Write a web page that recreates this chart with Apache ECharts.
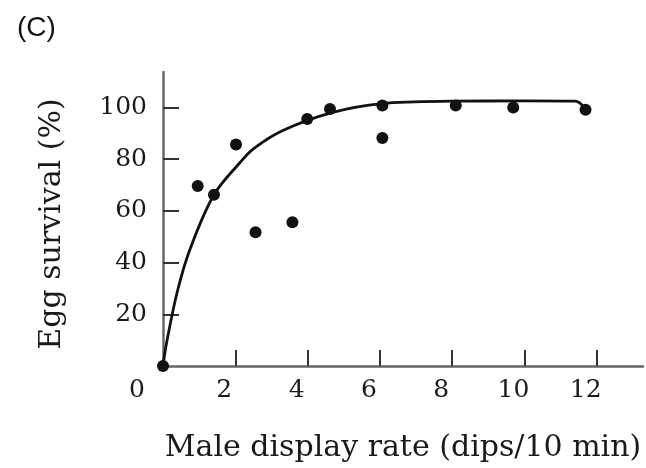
<!DOCTYPE html>
<html><head><meta charset="utf-8">
<script src="https://cdn.jsdelivr.net/npm/echarts@6/dist/echarts.min.js"></script>
<style>html,body{margin:0;padding:0;background:#fff}#c{width:646px;height:468px}</style>
</head><body><div id="c"></div>
<script>
const pointX = [0, 0.96, 1.41, 2.02, 2.56, 3.58, 3.99, 4.62, 6.07, 6.07, 8.10, 9.69, 11.69];
const pointY = [0, 69.6, 66.2, 85.7, 51.7, 55.6, 95.5, 99.4, 100.7, 88.2, 100.7, 100.0, 99.1];
const curveX = [0, 0.1, 0.4, 0.76, 1.41, 2.12, 2.5, 3.3, 4.67, 6.05, 8.0, 10.0, 11.4, 11.69];
const curveY = [0, 9, 29, 45.6, 66.2, 78.5, 84, 91, 98, 101.5, 102.4, 102.5, 102.4, 99.4];
const xTicks = [2, 4, 6, 8, 10, 12];
const xLabels = [0, 2, 4, 6, 8, 10, 12];
const yTicks = [20, 40, 60, 80, 100];

const chart = echarts.init(document.getElementById('c'), null, {renderer: 'canvas'});
const serif = 'DejaVu Serif';
chart.setOption({
  animation: false,
  backgroundColor: '#fff',
  title: {text: '(C)', left: 12, top: 9, textStyle: {fontFamily: 'Liberation Sans', fontSize: 28, fontWeight: 'normal', color: '#111'}},
  grid: {left: 163, right: 3, top: 72, bottom: 100},
  xAxis: {
    type: 'value', min: 0, max: 13.28,
    name: 'Male display rate (dips/10 min)', nameLocation: 'middle', nameGap: 67,
    nameTextStyle: {fontFamily: serif, fontSize: 30, color: '#1a1a1a'},
    splitLine: {show: false},
    axisLine: {lineStyle: {color: '#666', width: 2.5}},
    axisTick: {inside: true, length: 16, customValues: xTicks, lineStyle: {color: '#333', width: 2}},
    axisLabel: {
      customValues: xLabels, margin: 12, fontFamily: serif, fontSize: 25, color: '#1a1a1a',
      formatter: v => v === 0 ? '{z|0}' : '{n|' + v + '}',
      rich: {z: {fontFamily: serif, fontSize: 25, color: '#1a1a1a', padding: [0, 52, 0, 0]},
             n: {fontFamily: serif, fontSize: 25, color: '#1a1a1a', padding: [0, 22, 0, 0]}}
    }
  },
  yAxis: {
    type: 'value', min: 0, max: 113.7,
    name: 'Egg survival (%)', nameLocation: 'middle', nameGap: 96,
    nameTextStyle: {fontFamily: serif, fontSize: 30, color: '#1a1a1a', padding: [0, 10, 0, 0]},
    splitLine: {show: false},
    axisLine: {show: true, lineStyle: {color: '#666', width: 2.5}},
    axisTick: {show: true, inside: true, length: 16, customValues: yTicks, lineStyle: {color: '#333', width: 2}},
    axisLabel: {customValues: yTicks, margin: 16, fontFamily: serif, fontSize: 25, color: '#1a1a1a'}
  },
  series: [
    {type: 'line', data: curveX.map((x, i) => [x, curveY[i]]), smooth: 0.35,
     showSymbol: false, lineStyle: {color: '#111', width: 2.8}, z: 2},
    {type: 'scatter', data: pointX.map((x, i) => [x, pointY[i]]), symbolSize: 12,
     itemStyle: {color: '#111', opacity: 1}, z: 3}
  ]
});
</script></body></html>
